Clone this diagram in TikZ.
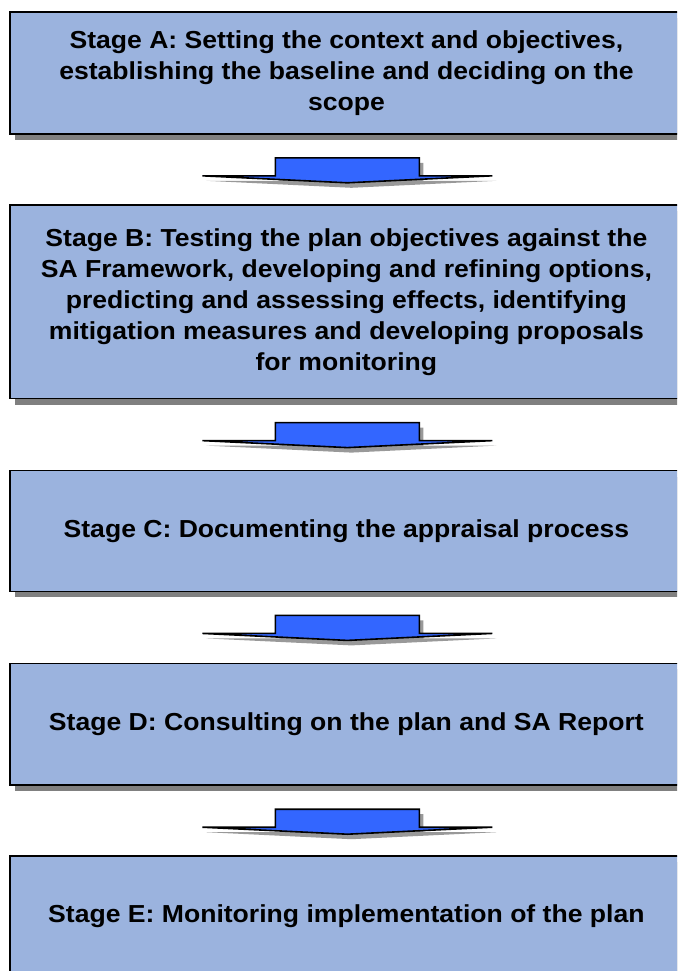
\documentclass[tikz,border=0pt]{standalone}
\usepackage{fontspec}
\setmainfont{Liberation Sans}[FakeStretch=1.08]
\usepackage{xcolor}
\usetikzlibrary{positioning}
\usetikzlibrary{shadows}
\usetikzlibrary{backgrounds}
\definecolor{stagefill}{RGB}{155,179,222}
\definecolor{arrowblue}{RGB}{51,102,255}
\definecolor{shadowgray}{RGB}{128,128,128}
\tikzset{
stagebox/.style={minimum width=336pt,align=center,inner sep=0pt,font=\bfseries\fontsize{12.3pt}{15.5pt}\selectfont},
stageframe/.style={draw=black,line width=0.8pt,line join=miter,fill=stagefill,drop shadow={shadow xshift=2.5pt,shadow yshift=-3pt,fill=shadowgray,opacity=1}},
stagearrow/.style={draw=black,line width=0.8pt,line join=miter,fill=arrowblue,drop shadow={shadow xshift=2pt,shadow yshift=-2.5pt,fill=shadowgray,opacity=0.8}}
}
\newcommand{\stagedownarrow}[1]{%
\draw[stagearrow,shift={(#1)}] (-145,0) -- (-72,0) -- (-72,-18) -- (72,-18) -- (72,0) -- (145,0) -- (0,7) -- cycle;}
\begin{document}
\begin{tikzpicture}[line cap=round,line join=round,x=0.5pt,y=-0.5pt]
\useasboundingbox (0,0) rectangle (677,971);
\clip (0,0) rectangle (677,971);
\node[stagebox,minimum height=60.5pt,anchor=north west] (A) at (10,12) {Stage A: Setting the context and objectives,\\establishing the baseline and deciding on the\\scope};
\node[stagebox,minimum height=96.5pt,below=35.5pt of A] (B) {Stage B: Testing the plan objectives against the\\SA Framework, developing and refining options,\\predicting and assessing effects, identifying\\mitigation measures and developing proposals\\for monitoring};
\node[stagebox,minimum height=60pt,below=36pt of B] (C) {Stage C: Documenting the appraisal process};
\node[stagebox,minimum height=60.5pt,below=36pt of C] (D) {Stage D: Consulting on the plan and SA Report};
\node[stagebox,minimum height=60pt,below=35.5pt of D] (E) {Stage E: Monitoring implementation of the plan};
% boxes run off the right edge
\begin{scope}[on background layer]
\clip (0,0) rectangle (677,971);
\draw[stageframe] (A.north west) rectangle ([xshift=30pt]A.south east);
\draw[stageframe] (B.north west) rectangle ([xshift=30pt]B.south east);
\draw[stageframe] (C.north west) rectangle ([xshift=30pt]C.south east);
\draw[stageframe] (D.north west) rectangle ([xshift=30pt]D.south east);
\draw[stageframe] (E.north west) rectangle ([xshift=30pt]E.south east);
\end{scope}
% arrows between the stages
\path (A.south) ++(1,42) coordinate (AB);
\path (B.south) ++(1,42) coordinate (BC);
\path (C.south) ++(1,42) coordinate (CD);
\path (D.south) ++(1,42) coordinate (DE);
\stagedownarrow{AB}
\stagedownarrow{BC}
\stagedownarrow{CD}
\stagedownarrow{DE}
\end{tikzpicture}
\end{document}
